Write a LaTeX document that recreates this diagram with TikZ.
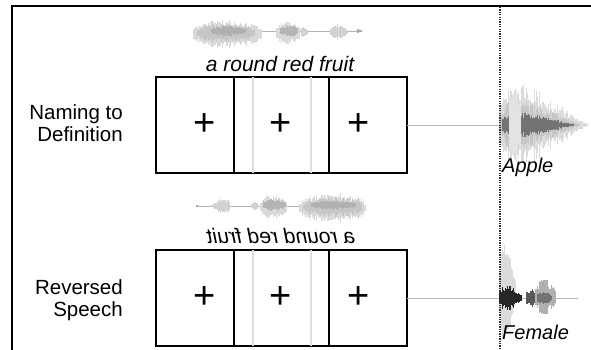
\documentclass[tikz,border=0pt]{standalone}
\usepackage{fontspec}
\setmainfont{Liberation Sans}
\usepackage{graphicx}
\usetikzlibrary{positioning}

% one chunk of a sound wave: x0, x1, mid line, start amp, end amp, colour
\newcommand{\wseg}[6]{%
  \pgfmathtruncatemacro{\wn}{(#2-#1)/1.1}%
  \foreach \k in {0,...,\wn}{%
    \pgfmathsetmacro{\wx}{#1+1.1*\k}%
    \pgfmathsetmacro{\wt}{\k/(\wn+1)}%
    \pgfmathsetmacro{\wh}{(#4+(#5-#4)*\wt)*(0.5+0.5*rnd)*(sin(180*(\k+0.5)/(\wn+1)))^0.3+0.4}%
    \draw[#6, line width=1.2pt] (\wx,#3-\wh) -- (\wx,#3+\wh);
  }}

\tikzset{
  trial/.style={draw, line width=1.4pt, minimum height=96pt, inner sep=0pt, outer sep=0pt},
  cross/.style={inner sep=0pt, font=\fontsize{38}{38}\selectfont},
  cond/.style={align=right, inner sep=0pt, anchor=north east, font=\fontsize{20.5}{22.4}\selectfont},
  sent/.style={inner sep=0pt, anchor=base, font=\fontsize{21}{24}\selectfont\itshape},
  word/.style={inner sep=0pt, anchor=base west, font=\fontsize{20}{22}\selectfont\itshape},
  flat/.style={gray!55, line width=0.6pt}
}

\begin{document}
\begin{tikzpicture}[x=1pt, y=-1pt]
  \useasboundingbox (0,0) rectangle (591,350);
  \pgfmathsetseed{11}

  % frame
  \draw[line width=1.6pt] (12,350) -- (12,6) -- (591,6);

  % condition names
  \node[cond] (nameA) at (123,104) {Naming to\\Definition};
  \node[cond] (nameB) at (123,279) {Reversed\\Speech};

  % trial boxes, row 1
  \node[trial, minimum width=78pt, anchor=north west] (a1) at (156,77) {};
  \node[trial, minimum width=95pt, anchor=west] (a2) at (a1.east) {};
  \node[trial, minimum width=78pt, anchor=west] (a3) at (a2.east) {};
  \draw[gray!25, line width=1.5pt] ([xshift=19pt]a2.north west) -- ([xshift=19pt]a2.south west);
  \draw[gray!25, line width=1.5pt] ([xshift=77pt]a2.north west) -- ([xshift=77pt]a2.south west);
  \node[cross] (pa1) at (205,125) {+};
  \node[cross] (pa2) at (281,125) {+};
  \node[cross] (pa3) at (359,125) {+};

  % trial boxes, row 2
  \node[trial, minimum width=78pt, anchor=north west] (b1) at (156,250) {};
  \node[trial, minimum width=95pt, anchor=west] (b2) at (b1.east) {};
  \node[trial, minimum width=78pt, anchor=west] (b3) at (b2.east) {};
  \draw[gray!25, line width=1.5pt] ([xshift=19pt]b2.north west) -- ([xshift=19pt]b2.south west);
  \draw[gray!25, line width=1.5pt] ([xshift=77pt]b2.north west) -- ([xshift=77pt]b2.south west);
  \node[cross] (pb1) at (205,298) {+};
  \node[cross] (pb2) at (281,298) {+};
  \node[cross] (pb3) at (359,298) {+};

  % sentences
  \node[sent] (sentA) at (280,72) {a round red fruit};
  \node[sent] (sentB) at (281,243) {\reflectbox{a round red fruit}};

  % wave of the sentence
  \draw[gray!60, line width=0.5pt] (195,31) -- (362,31);
  \fill[gray!70] (363,31) -- (357,29) -- (357,33) -- cycle;
  \wseg{194}{262}{34}{15}{14}{gray!30}
  \wseg{198}{255}{33}{10}{9}{gray!45}
  \wseg{212}{246}{31}{5}{5}{gray!62}
  \wseg{277}{300}{33}{13}{11}{gray!30}
  \wseg{281}{298}{31}{6}{5}{gray!58}
  \wseg{302}{308}{32}{6}{4}{gray!35}
  \wseg{331}{348}{32}{10}{3}{gray!35}

  % same wave, reversed
  \draw[gray!60, line width=0.5pt] (197,206) -- (365,206);
  \fill[gray!70] (197,206) circle (1.3pt);
  \wseg{212}{230}{206}{3}{10}{gray!35}
  \wseg{252}{258}{206}{4}{6}{gray!35}
  \wseg{261}{287}{207}{13}{13}{gray!30}
  \wseg{264}{285}{205}{6}{6}{gray!58}
  \wseg{300}{366}{208}{14}{16}{gray!30}
  \wseg{304}{362}{207}{9}{10}{gray!45}
  \wseg{312}{355}{205}{4}{4}{gray!62}

  % answers after the trial
  \coordinate (tailA) at (582,125);
  \coordinate (tailB) at (578,298);
  \draw[flat] (a3.east) -- (tailA);
  \draw[flat] (b3.east) -- (tailB);

  \wseg{500}{588}{125}{58}{3}{gray!28}
  \wseg{500}{580}{125}{36}{2}{gray!45}
  \wseg{503}{574}{125}{18}{1}{black!55}
  \wseg{510}{520}{125}{50}{45}{gray!22}

  \wseg{500}{516}{292}{62}{30}{gray!28}
  \wseg{500}{522}{298}{16}{6}{black!85}
  \wseg{527}{537}{298}{11}{6}{black!65}
  \wseg{536}{556}{297}{20}{14}{gray!62}
  \wseg{538}{552}{298}{8}{6}{black!55}

  % onset line
  \coordinate (cutT) at (500,7);
  \coordinate (cutB) at (500,350);
  \draw[gray!35!black, dash pattern=on 1.3pt off 1.1pt, line width=1.3pt] (cutT) -- (cutB);

  \node[word] (wordA) at (502,172) {Apple};
  \node[word] (wordB) at (502,339) {Female};
\end{tikzpicture}
\end{document}
